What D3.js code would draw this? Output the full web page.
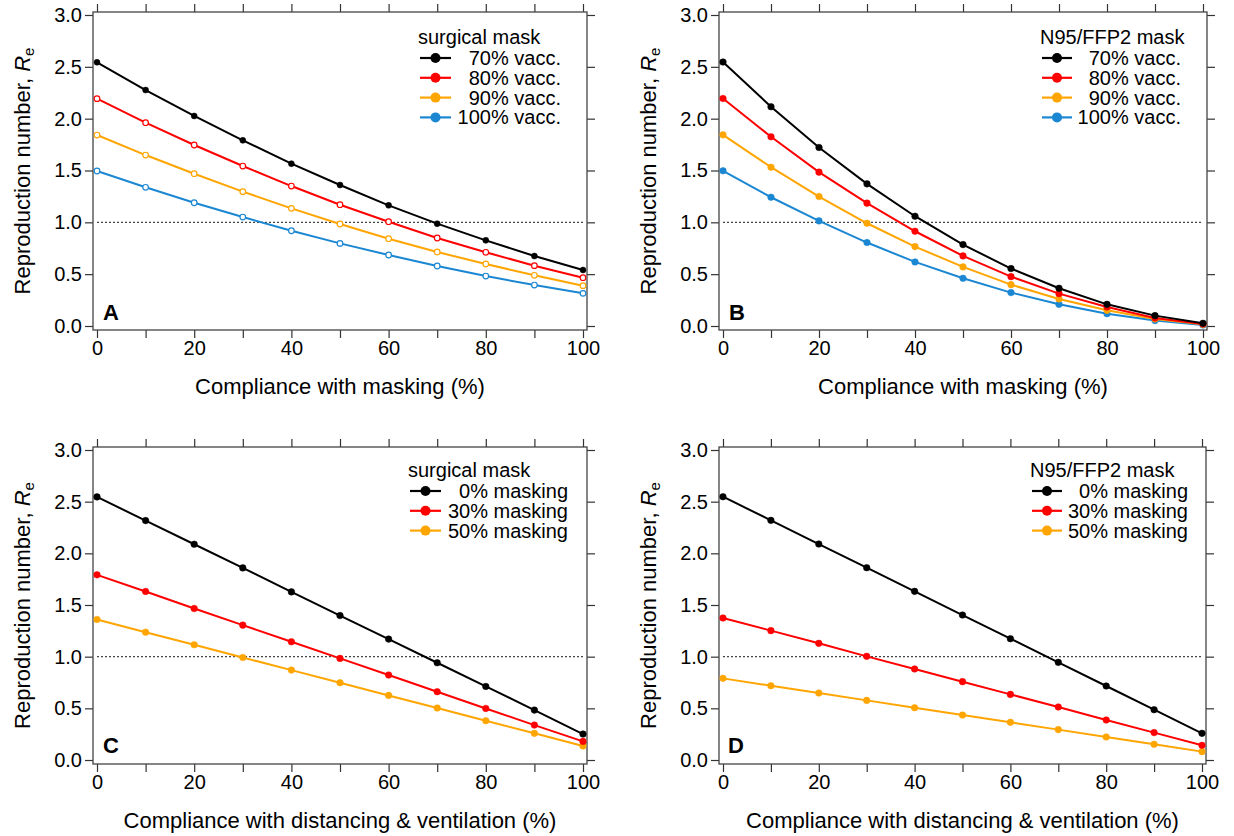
<!DOCTYPE html>
<html>
<head>
<meta charset="utf-8">
<script src="https://cdn.jsdelivr.net/npm/d3@7"></script>
<style>
  html, body { margin: 0; padding: 0; background: #fff; }
  svg { display: block; }
  text { font-family: "Liberation Sans", Arial, Helvetica, sans-serif; fill: #000; }
</style>
</head>
<body>
<svg id="chart" width="1234" height="836"></svg>
<script>
// ---------- DATA ----------
const compliance = [0, 10, 20, 30, 40, 50, 60, 70, 80, 90, 100];
const xTicks = [0, 10, 20, 30, 40, 50, 60, 70, 80, 90, 100];
const xTickLabels = [0, 20, 40, 60, 80, 100];
const yTicks = [0.0, 0.5, 1.0, 1.5, 2.0, 2.5, 3.0];

// Panel A: surgical mask, by vaccination coverage
const surgVacc70  = [2.544, 2.276, 2.026, 1.791, 1.566, 1.360, 1.164, 0.987, 0.826, 0.675, 0.540];
const surgVacc80  = [2.193, 1.961, 1.746, 1.543, 1.350, 1.170, 1.006, 0.849, 0.711, 0.582, 0.466];
const surgVacc90  = [1.842, 1.649, 1.469, 1.296, 1.135, 0.984, 0.842, 0.714, 0.598, 0.489, 0.389];
const surgVacc100 = [1.495, 1.338, 1.189, 1.051, 0.919, 0.797, 0.685, 0.579, 0.482, 0.395, 0.315];

// Panel B: N95/FFP2 mask, by vaccination coverage
const n95Vacc70  = [2.546, 2.115, 1.722, 1.371, 1.059, 0.785, 0.554, 0.364, 0.209, 0.100, 0.026];
const n95Vacc80  = [2.195, 1.825, 1.484, 1.185, 0.914, 0.676, 0.476, 0.312, 0.183, 0.077, 0.019];
const n95Vacc90  = [1.844, 1.532, 1.249, 0.991, 0.766, 0.570, 0.399, 0.261, 0.151, 0.068, 0.016];
const n95Vacc100 = [1.497, 1.242, 1.014, 0.805, 0.618, 0.460, 0.322, 0.209, 0.119, 0.052, 0.010];

// Panel C: surgical mask, by masking level (x = distancing & ventilation)
const surgMask0  = [2.546, 2.317, 2.088, 1.859, 1.627, 1.398, 1.170, 0.941, 0.712, 0.483, 0.251];
const surgMask30 = [1.792, 1.631, 1.466, 1.305, 1.144, 0.983, 0.822, 0.661, 0.499, 0.338, 0.180];
const surgMask50 = [1.360, 1.237, 1.115, 0.992, 0.870, 0.748, 0.625, 0.503, 0.380, 0.258, 0.135];

// Panel D: N95/FFP2 mask, by masking level
const n95Mask0  = [2.548, 2.319, 2.090, 1.861, 1.632, 1.403, 1.174, 0.945, 0.716, 0.487, 0.258];
const n95Mask30 = [1.374, 1.252, 1.129, 1.003, 0.881, 0.758, 0.635, 0.513, 0.387, 0.265, 0.142];
const n95Mask50 = [0.790, 0.719, 0.648, 0.577, 0.506, 0.435, 0.365, 0.294, 0.223, 0.152, 0.081];

const vaccLabels = ["70% vacc.", "80% vacc.", "90% vacc.", "100% vacc."];
const maskLabels = ["0% masking", "30% masking", "50% masking"];
const colors4 = ["#000000", "#ff0000", "#ffa500", "#1b87d3"];
const colors3 = ["#000000", "#ff0000", "#ffa500"];

const xTitleMask = "Compliance with masking (%)";
const xTitleDist = "Compliance with distancing & ventilation (%)";

// ---------- LAYOUT ----------
const panels = [
  { letter: "A", legendTitle: "surgical mask", series: [surgVacc70, surgVacc80, surgVacc90, surgVacc100],
    labels: vaccLabels, colors: colors4, openMarkers: true, xTitle: xTitleMask,
    xr: [97, 583], yr: [326, 15], legend: { x: 420, y: 37, textRight: 561, lineW: 31 } , letterPos: [103, 320], rMarker: 3 },
  { letter: "B", legendTitle: "N95/FFP2 mask", series: [n95Vacc70, n95Vacc80, n95Vacc90, n95Vacc100],
    labels: vaccLabels, colors: colors4, openMarkers: false, xTitle: xTitleMask,
    xr: [723, 1203], yr: [326, 15], legend: { x: 1042, y: 37, textRight: 1181, lineW: 30 }, letterPos: [729, 320], rMarker: 3.3 },
  { letter: "C", legendTitle: "surgical mask", series: [surgMask0, surgMask30, surgMask50],
    labels: maskLabels, colors: colors3, openMarkers: false, xTitle: xTitleDist,
    xr: [97, 583], yr: [760, 450], legend: { x: 410, y: 470, textRight: 568, lineW: 31 }, letterPos: [103, 753], rMarker: 3.3 },
  { letter: "D", legendTitle: "N95/FFP2 mask", series: [n95Mask0, n95Mask30, n95Mask50],
    labels: maskLabels, colors: colors3, openMarkers: false, xTitle: xTitleDist,
    xr: [723, 1202], yr: [760, 450], legend: { x: 1032, y: 470, textRight: 1188, lineW: 30 }, letterPos: [728, 753], rMarker: 3.3 }
];

const svg = d3.select("#chart");
const PAD = 4;        // gap between data range and frame
const TICK = 8;       // tick length (outside)
const TICKFS = 20;    // tick label font size
const TITLEFS = 22;   // axis title font size
const LEGFS = 20;     // legend font size

panels.forEach(p => {
  const x = d3.scaleLinear().domain([0, 100]).range(p.xr);
  const y = d3.scaleLinear().domain([0, 3]).range(p.yr);
  const fx0 = p.xr[0] - PAD, fx1 = p.xr[1] + PAD;
  const fy0 = p.yr[1] - 3, fy1 = p.yr[0] + PAD;
  const g = svg.append("g");

  // axes (ticks on all four sides, outside)
  const styleAxis = sel => {
    sel.select(".domain").remove();
    sel.selectAll(".tick line").attr("stroke", "#333").attr("stroke-width", 1.2);
    sel.selectAll(".tick text").style("font-size", TICKFS + "px")
       .style("font-family", '"Liberation Sans", Arial, Helvetica, sans-serif').attr("fill", "#000");
  };
  g.append("g").attr("transform", `translate(0,${fy1})`)
    .call(d3.axisBottom(x).tickValues(xTicks).tickSize(TICK).tickPadding(3)
      .tickFormat(d => xTickLabels.includes(d) ? d : ""))
    .call(styleAxis);
  g.append("g").attr("transform", `translate(0,${fy0})`)
    .call(d3.axisTop(x).tickValues(xTicks).tickSize(TICK).tickFormat(""))
    .call(styleAxis);
  g.append("g").attr("transform", `translate(${fx0},0)`)
    .call(d3.axisLeft(y).tickValues(yTicks).tickSize(TICK).tickPadding(3).tickFormat(d3.format(".1f")))
    .call(styleAxis);
  g.append("g").attr("transform", `translate(${fx1},0)`)
    .call(d3.axisRight(y).tickValues(yTicks).tickSize(TICK).tickFormat(""))
    .call(styleAxis);

  // frame
  g.append("rect").attr("x", fx0).attr("y", fy0).attr("width", fx1 - fx0).attr("height", fy1 - fy0)
    .attr("fill", "none").attr("stroke", "#444").attr("stroke-width", 1.3);

  // threshold line at Re = 1
  g.append("line").attr("x1", p.xr[0]).attr("x2", p.xr[1]).attr("y1", y(1)).attr("y2", y(1))
    .attr("stroke", "#444").attr("stroke-width", 1.2).attr("stroke-dasharray", "2,2");

  // series (draw last series first so black is on top)
  const line = d3.line().x((d, i) => x(compliance[i])).y(d => y(d));
  const order = d3.range(p.series.length).reverse();
  order.forEach(si => {
    const data = p.series[si];
    const c = p.colors[si];
    g.append("path").datum(data).attr("d", line).attr("fill", "none")
      .attr("stroke", c).attr("stroke-width", 2);
    const open = p.openMarkers && si > 0;
    g.selectAll(null).data(data).enter().append("circle")
      .attr("cx", (d, i) => x(compliance[i])).attr("cy", d => y(d))
      .attr("r", open ? 2.8 : p.rMarker)
      .attr("fill", open ? "#fff" : c)
      .attr("stroke", c).attr("stroke-width", open ? 1.2 : 0.5);
  });

  // legend
  const L = p.legend;
  g.append("text").attr("x", L.x - 2).attr("y", L.y).attr("dy", "0.35em")
    .style("font-size", LEGFS + "px").text(p.legendTitle);
  p.labels.forEach((lab, i) => {
    const cy = L.y + 21 + i * 19.8;
    g.append("line").attr("x1", L.x).attr("x2", L.x + L.lineW).attr("y1", cy).attr("y2", cy)
      .attr("stroke", p.colors[i]).attr("stroke-width", 2.2);
    g.append("circle").attr("cx", L.x + L.lineW / 2).attr("cy", cy).attr("r", 5).attr("fill", p.colors[i]);
    g.append("text").attr("x", L.textRight).attr("y", cy).attr("dy", "0.35em")
      .attr("text-anchor", "end").style("font-size", LEGFS + "px").text(lab);
  });

  // panel letter
  g.append("text").attr("x", p.letterPos[0]).attr("y", p.letterPos[1])
    .style("font-size", "22px").style("font-weight", "bold").text(p.letter);

  // x-axis title
  g.append("text").attr("x", (p.xr[0] + p.xr[1]) / 2).attr("y", fy1 + 56).attr("dy", "0.35em")
    .attr("text-anchor", "middle").style("font-size", TITLEFS + "px").text(p.xTitle);

  // y-axis title
  const ty = (fy0 + fy1) / 2, tx = fx0 - 71;
  const yt = g.append("text").attr("transform", `translate(${tx},${ty}) rotate(-90)`)
    .attr("text-anchor", "middle").attr("dy", "0.35em").style("font-size", TITLEFS + "px");
  yt.append("tspan").text("Reproduction number, ");
  yt.append("tspan").style("font-style", "italic").text("R");
  yt.append("tspan").attr("dy", "0.3em").style("font-size", "15px").text("e");
});
</script>
</body>
</html>
